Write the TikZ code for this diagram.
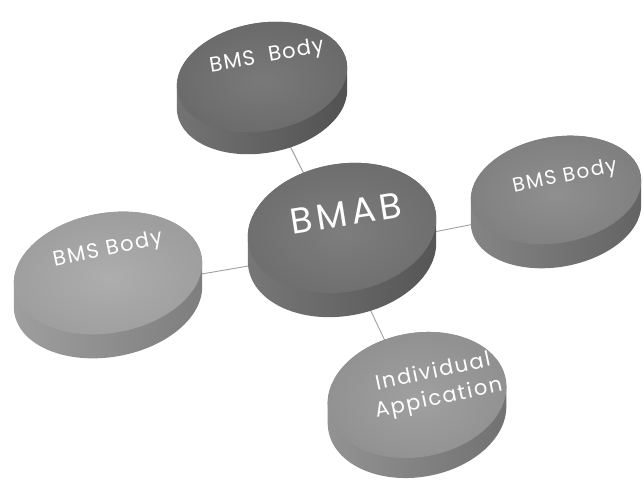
\documentclass[tikz,border=0pt]{standalone}
\usepackage{fontspec}
\setmainfont{Poppins}
\definecolor{faceTop}{HTML}{717171}
\definecolor{sideTop}{HTML}{5C5C5C}
\definecolor{faceMid}{HTML}{757575}
\definecolor{sideMid}{HTML}{606060}
\definecolor{faceRight}{HTML}{888888}
\definecolor{sideRight}{HTML}{707070}
\definecolor{faceLeft}{HTML}{A8A8A8}
\definecolor{sideLeft}{HTML}{8E8E8E}
\definecolor{faceBot}{HTML}{9A9A9A}
\definecolor{sideBot}{HTML}{808080}
\definecolor{linkgrey}{HTML}{A0A0A0}
\newcommand\drawdisc[8]{%
\begin{scope}[shift={(#1,#2)},rotate=#6]
\shade[left color=#8!85!white, right color=#8!88!black]
  \foreach \k in {0,1,...,#5}{({-\k*sin(#6)},{\k*cos(#6)}) ellipse [x radius=#3, y radius=#4]};
\shade[inner color=#7!94!white, outer color=#7!94!black] (0,0) ellipse [x radius=#3, y radius=#4];
\end{scope}}
\tikzset{
  link/.style={draw=linkgrey, line width=0.9pt},
  lbl/.style={text=white, inner sep=0pt, align=center}
}
\begin{document}
\begin{tikzpicture}[x=1pt,y=-1pt]
\useasboundingbox[fill=white] (0,0) rectangle (643,495);
% hubs
\coordinate (hubMid) at (342,250);
\coordinate (hubTop) at (258,82);
\coordinate (hubLeft) at (108,290);
\coordinate (hubRight) at (556,208);
\coordinate (hubBot) at (413,400);
\draw[link] (hubMid) -- (hubTop);
\draw[link] (hubMid) -- (hubLeft);
\draw[link] (hubMid) -- (hubRight);
\draw[link] (hubMid) -- (hubBot);
% discs
\drawdisc{262}{77}{86}{54}{22}{10}{faceTop}{sideTop}
\drawdisc{342}{228}{95}{64}{24}{10}{faceMid}{sideMid}
\drawdisc{108}{273}{95}{60}{24}{10}{faceLeft}{sideLeft}
\drawdisc{556}{190}{86}{53}{24}{10}{faceRight}{sideRight}
\drawdisc{417}{395}{90}{62}{20}{10}{faceBot}{sideBot}
% labels
\node[lbl,rotate=10,font=\fontsize{21}{23}\selectfont\addfontfeatures{LetterSpace=6}] (tTop) at (267,57) {BMS\ \ Body};
\node[lbl,rotate=9,font=\fontsize{36}{38}\selectfont\addfontfeatures{LetterSpace=12}] (tMid) at (346,213) {BMAB};
\node[lbl,rotate=12,font=\fontsize{21}{23}\selectfont\addfontfeatures{LetterSpace=8}] (tLeft) at (108,250) {BMS Body};
\node[lbl,rotate=12,font=\fontsize{20}{22}\selectfont\addfontfeatures{LetterSpace=8}] (tRight) at (565,177) {BMS Body};
\node[lbl,rotate=12,font=\fontsize{21}{27}\selectfont\addfontfeatures{LetterSpace=8}] (tBot) at (436,386) {Individual\\Appication};
\end{tikzpicture}
\end{document}
